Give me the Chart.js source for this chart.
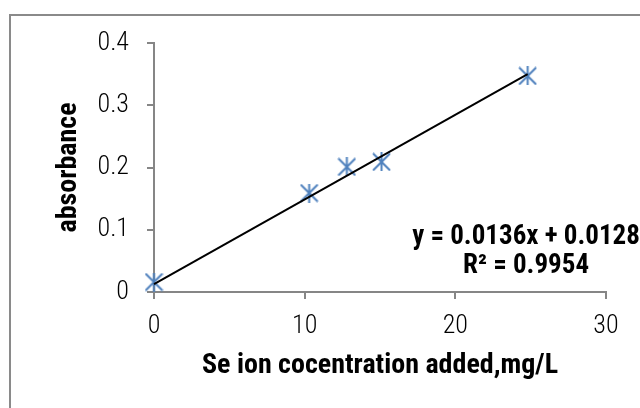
<!DOCTYPE html>
<html>
<head>
<meta charset="utf-8">
<script src="https://cdn.jsdelivr.net/npm/chart.js@4.4.0/dist/chart.umd.min.js"></script>
<style>
  html, body { margin: 0; padding: 0; background: #fff; }
  #wrap { width: 640px; height: 408px; position: relative; }
</style>
</head>
<body>
<div id="wrap"><canvas id="chart"></canvas></div>
<script>
const seConc = [0, 10.3, 12.8, 15.1, 24.8];
const absorbance = [0.016, 0.159, 0.201, 0.209, 0.347];

// linear trendline ends
const trendX = [0, 24.8];
const trendY = [0.0128, 0.3501];

const xTicks = [0, 10, 20, 30];
const yTicks = [0, 0.1, 0.2, 0.3, 0.4];
const equationLines = ['y = 0.0136x + 0.0128', 'R² = 0.9954'];

const AXIS_GREY = '#868686';
const MARKER_BLUE = '#4f81bd';
const NARROW = '"Roboto Condensed", "DejaVu Sans Condensed", sans-serif';

// excel style "star" marker: an X with a vertical bar
function starMarker(size, color) {
  const c = document.createElement('canvas');
  c.width = size;
  c.height = size;
  const g = c.getContext('2d');
  g.strokeStyle = color;
  g.lineWidth = 2;
  g.beginPath();
  g.moveTo(1, 1); g.lineTo(size - 1, size - 1);
  g.moveTo(size - 1, 1); g.lineTo(1, size - 1);
  g.moveTo(size / 2, 0); g.lineTo(size / 2, size);
  g.stroke();
  return c;
}

const framePlugin = {
  id: 'frame',
  beforeDraw(chart) {
    const ctx = chart.ctx;
    ctx.save();
    ctx.strokeStyle = '#8a8a8a';
    ctx.lineWidth = 2;
    ctx.strokeRect(10, 15, 800, 600);
    ctx.restore();
  }
};

const equationPlugin = {
  id: 'equation',
  afterDraw(chart) {
    const ctx = chart.ctx;
    ctx.save();
    ctx.fillStyle = '#000';
    ctx.font = 'bold 27px ' + NARROW;
    ctx.textAlign = 'center';
    ctx.textBaseline = 'middle';
    ctx.fillText(equationLines[0], 526, 237);
    ctx.fillText(equationLines[1], 526, 266);
    ctx.restore();
  }
};

const ctx = document.getElementById('chart').getContext('2d');
new Chart(ctx, {
  type: 'scatter',
  data: {
    datasets: [
      {
        label: 'Linear',
        data: trendX.map((x, i) => ({ x: x, y: trendY[i] })),
        showLine: true,
        borderColor: '#000',
        borderWidth: 2,
        pointRadius: 0,
        clip: false,
        order: 0
      },
      {
        label: 'absorbance',
        data: seConc.map((x, i) => ({ x: x, y: absorbance[i] })),
        pointStyle: starMarker(19, MARKER_BLUE),
        pointRadius: 9,
        clip: false,
        order: 1
      }
    ]
  },
  options: {
    responsive: true,
    maintainAspectRatio: false,
    animation: false,
    layout: { padding: { left: 0, right: 34, top: 43, bottom: 0 } },
    plugins: {
      legend: { display: false },
      tooltip: { enabled: false }
    },
    scales: {
      x: {
        type: 'linear',
        min: 0,
        max: 30,
        afterBuildTicks: s => { s.ticks = xTicks.map(v => ({ value: v })); },
        afterFit: s => { s.height = 116; },
        grid: { drawOnChartArea: false, drawTicks: true, tickLength: 7, color: AXIS_GREY, lineWidth: 2 },
        border: { color: AXIS_GREY, width: 2 },
        ticks: {
          color: '#000',
          padding: 12,
          font: { family: NARROW, size: 26, weight: 300 },
          callback: v => String(v)
        },
        title: {
          display: true,
          text: 'Se ion cocentration added,mg/L',
          color: '#000',
          font: { family: NARROW, size: 28, weight: 'bold', lineHeight: 1 },
          padding: { top: 0, bottom: 28 }
        }
      },
      y: {
        type: 'linear',
        min: 0,
        max: 0.4,
        afterBuildTicks: s => { s.ticks = yTicks.map(v => ({ value: v })); },
        afterFit: s => { s.width = 154; },
        grid: { drawOnChartArea: false, drawTicks: true, tickLength: 7, color: AXIS_GREY, lineWidth: 2 },
        border: { color: AXIS_GREY, width: 2 },
        ticks: {
          color: '#000',
          padding: 18,
          font: { family: NARROW, size: 26, weight: 300 },
          callback: v => String(v)
        },
        title: {
          display: true,
          text: 'absorbance',
          color: '#000',
          font: { family: NARROW, size: 28, weight: 'bold', lineHeight: 1 },
          padding: { top: 55, bottom: 0 }
        }
      }
    }
  },
  plugins: [framePlugin, equationPlugin]
});
</script>
</body>
</html>
